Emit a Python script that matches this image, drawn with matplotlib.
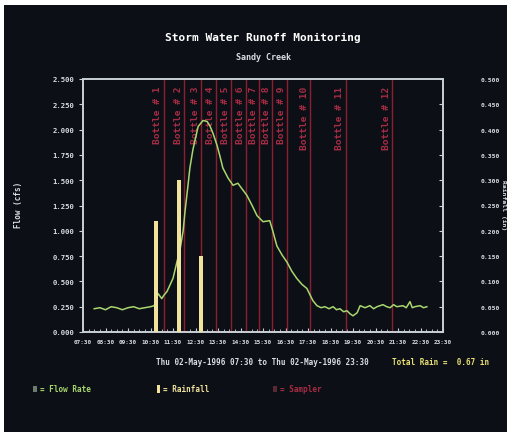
import matplotlib
matplotlib.use("Agg")
import matplotlib.pyplot as plt
from matplotlib.ticker import FixedLocator, MultipleLocator, FuncFormatter
from matplotlib.patches import Rectangle

# Flow record, Sandy Creek, 02-May-1996
flow_times = ["08:00", "08:15", "08:30", "08:45", "09:00", "09:15", "09:30", "09:45",
              "10:00", "10:15", "10:30", "10:40", "10:50", "11:00", "11:05", "11:14",
              "11:30", "11:41", "11:49", "11:57", "12:02", "12:10", "12:15", "12:23",
              "12:37", "12:50", "13:01", "13:08", "13:17", "13:27", "13:35", "13:43",
              "13:57", "14:10", "14:23", "14:37", "14:47", "15:01", "15:14", "15:30",
              "15:48", "15:56", "16:07", "16:21", "16:34", "16:47", "17:00", "17:14",
              "17:27", "17:43", "17:54", "18:05", "18:15", "18:26", "18:37", "18:46",
              "18:55", "19:05", "19:14", "19:22", "19:30", "19:41", "19:49", "20:02",
              "20:15", "20:25", "20:34", "20:50", "21:00", "21:09", "21:18", "21:27",
              "21:43", "21:52", "22:02", "22:08", "22:15", "22:29", "22:38", "22:47"]
flow_cfs = [0.23, 0.24, 0.22, 0.25, 0.24, 0.22, 0.24, 0.25,
            0.23, 0.24, 0.25, 0.26, 0.38, 0.33, 0.36, 0.40,
            0.53, 0.70, 0.82, 1.00, 1.19, 1.45, 1.62, 1.80,
            2.03, 2.09, 2.08, 2.04, 1.96, 1.85, 1.74, 1.62,
            1.52, 1.45, 1.47, 1.40, 1.35, 1.25, 1.15, 1.09,
            1.10, 1.00, 0.85, 0.76, 0.69, 0.60, 0.53, 0.47,
            0.43, 0.31, 0.26, 0.24, 0.25, 0.23, 0.25, 0.22,
            0.23, 0.20, 0.21, 0.18, 0.16, 0.19, 0.26, 0.24,
            0.26, 0.23, 0.25, 0.27, 0.25, 0.24, 0.27, 0.25,
            0.26, 0.24, 0.30, 0.24, 0.25, 0.26, 0.24, 0.25]

# Hourly rainfall totals
rain_times = ["10:45", "11:45", "12:45"]
rain_in = [0.22, 0.30, 0.15]

# Sampler bottle events
bottle_times = ["11:05", "12:00", "12:45", "13:25", "14:05", "14:45",
                "15:20", "15:55", "16:35", "17:35", "19:10", "21:15"]
bottle_labels = ["Bottle # %d" % (i + 1) for i in range(len(bottle_times))]

total_rain = sum(rain_in)


def to_hours(s):
    h, m = s.split(":")
    return int(h) + int(m) / 60.0


def fmt_time(v, pos=None):
    h = int(v)
    m = int(round((v - h) * 60))
    return "%02d:%02d" % (h, m)


BG = "#0c1016"
FRAME = "#c9d0d6"
TXT = "#d8dde2"
GREEN = "#a9d66f"
YELLOW = "#f1e39c"
RED = "#8c1f2f"
RED_TXT = "#a82c44"
MONO = "DejaVu Sans Mono"

fig = plt.figure(figsize=(5.08, 4.35), dpi=100, facecolor="white")
fig.patches.append(Rectangle((4 / 508, 2 / 435), 503 / 508, 427 / 435,
                             transform=fig.transFigure, facecolor=BG,
                             edgecolor="none", zorder=-10))

ax = fig.add_axes([83 / 508, 1 - 333 / 435, 360 / 508, 253 / 435])
ax.set_facecolor(BG)
ax2 = ax.twinx()

ft = [to_hours(t) for t in flow_times]
ax.plot(ft, flow_cfs, color=GREEN, lw=1.1, zorder=5)

# sampler lines with rotated labels
for t, lab in zip(bottle_times, bottle_labels):
    x = to_hours(t)
    ax.axvline(x, color=RED, lw=1.0, zorder=2)
    ax.text(x - 0.05, 0.975, lab, transform=ax.get_xaxis_transform(),
            rotation=90, ha="right", va="top", color=RED_TXT,
            fontsize=6.8, family=MONO, fontweight="bold", zorder=3)

ax2.bar([to_hours(t) for t in rain_times], rain_in, width=0.17,
        color=YELLOW, edgecolor="none", zorder=4)

ax.set_xlim(7.5, 23.5)
ax.set_ylim(0, 2.5)
ax2.set_ylim(0, 0.5)

ax.xaxis.set_major_locator(FixedLocator([7.5 + i for i in range(17)]))
ax.xaxis.set_minor_locator(MultipleLocator(0.25))
ax.xaxis.set_major_formatter(FuncFormatter(fmt_time))
ax.yaxis.set_major_locator(MultipleLocator(0.25))
ax.yaxis.set_major_formatter(FuncFormatter(lambda v, p: "%.3f" % v))
ax2.yaxis.set_major_locator(MultipleLocator(0.05))
ax2.yaxis.set_major_formatter(FuncFormatter(lambda v, p: "%.3f" % v))

for a in (ax, ax2):
    for sp in a.spines.values():
        sp.set_color(FRAME)
        sp.set_linewidth(1.2)
    a.tick_params(colors=FRAME, labelcolor=TXT, labelsize=5.2, width=0.8)
ax.tick_params(axis="x", which="major", length=3, direction="in", pad=5,
               labelsize=4.3)
ax.tick_params(axis="x", which="minor", length=2, direction="in", colors=FRAME)
ax.tick_params(axis="y", length=3, direction="out", pad=3)
ax2.tick_params(axis="y", length=3, direction="in", pad=27, labelsize=4.6)
for lab in ax.get_xticklabels() + ax.get_yticklabels() + ax2.get_yticklabels():
    lab.set_family(MONO)
    lab.set_fontweight("bold")

fig.text(18 / 508, 1 - 205 / 435, "Flow (cfs)", rotation=90, ha="center",
         va="center", color=TXT, fontsize=5.5, family=MONO, fontweight="bold")
fig.text(503.5 / 508, 1 - 205 / 435, "Rainfall (in)", rotation=270, ha="center",
         va="center", color=TXT, fontsize=4.6, family=MONO, fontweight="bold")

fig.text(263 / 508, 1 - 38 / 435, "Storm Water Runoff Monitoring", ha="center",
         va="center", color="white", fontsize=8, family=MONO, fontweight="bold")
fig.text(263 / 508, 1 - 57 / 435, "Sandy Creek", ha="center", va="center",
         color=TXT, fontsize=6, family=MONO, fontweight="bold")

fig.text(262 / 508, 1 - 363 / 435,
         "Thu 02-May-1996 07:30 to Thu 02-May-1996 23:30",
         ha="center", va="center", color=TXT, fontsize=5.5, family=MONO,
         fontweight="bold")
fig.text(392 / 508, 1 - 363 / 435, "Total Rain =  %.2f in" % total_rain,
         ha="left", va="center", color="#e9e074", fontsize=5.5, family=MONO,
         fontweight="bold")

# legend row
ly = 1 - 390 / 435
fig.patches.append(Rectangle((33 / 508, ly - 0.006), 4 / 508, 0.012,
                             transform=fig.transFigure, facecolor="#6d7a70",
                             edgecolor="none"))
fig.text(40 / 508, ly, "= Flow Rate", ha="left", va="center", color=GREEN,
         fontsize=5.5, family=MONO, fontweight="bold")
fig.patches.append(Rectangle((157 / 508, ly - 0.01), 3 / 508, 0.02,
                             transform=fig.transFigure, facecolor=YELLOW,
                             edgecolor="none"))
fig.text(163 / 508, ly, "= Rainfall", ha="left", va="center", color=YELLOW,
         fontsize=5.5, family=MONO, fontweight="bold")
fig.patches.append(Rectangle((273 / 508, ly - 0.006), 4 / 508, 0.012,
                             transform=fig.transFigure, facecolor="#5a2a34",
                             edgecolor="none"))
fig.text(280 / 508, ly, "= Sampler", ha="left", va="center", color=RED_TXT,
         fontsize=5.5, family=MONO, fontweight="bold")

fig.savefig("out.png", dpi=100, facecolor="white")
